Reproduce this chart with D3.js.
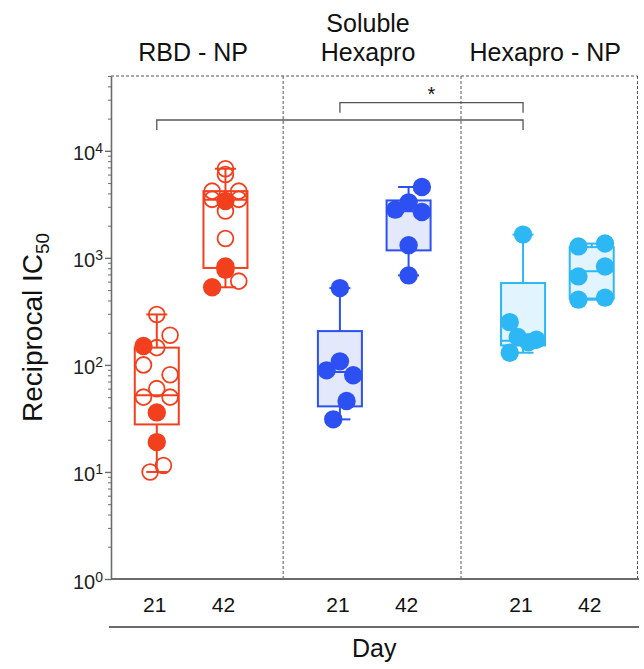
<!DOCTYPE html>
<html>
<head>
<meta charset="utf-8">
<script src="https://cdn.jsdelivr.net/npm/d3@7"></script>
<style>
  body { margin: 0; background: #fff; }
  svg { font-family: "Liberation Sans", Arial, sans-serif; }
</style>
</head>
<body>
<svg id="chart" width="644" height="669"></svg>
<script>
(function () {
  'use strict';

  var groupLines = [['RBD - NP'], ['Soluble', 'Hexapro'], ['Hexapro - NP']];
  var dayLabels = ['21', '42'];
  var colors = ['#f2401e', '#2c50f2', '#2db8f5'];
  var boxFills = ['none', '#e4e8fb', '#e2f4fd'];
  var yTickValues = [1, 10, 100, 1000, 10000];

  // values, top to bottom
  var red21 = [296, 189, 150, 145, 100, 81, 60, 50, 50, 36, 19, 11.5, 10];
  var red21Filled = [0, 0, 1, 0, 0, 0, 0, 0, 0, 1, 1, 0, 0];
  var red21Spread = [0, 1, -1, 0, -1, 1, 0, -1, 1, 0, 0, 0.5, -0.5];
  var red21Box = [10, 27.8, 52, 145, 296];

  var red42 = [6800, 6000, 4200, 4200, 3520, 3520, 3400, 2740, 1515, 830, 775, 606, 531];
  var red42Filled = [0, 0, 0, 0, 0, 0, 1, 0, 0, 1, 1, 0, 1];
  var red42Spread = [0, 0, -1, 1, -1, 1, 0, 0, 0, 0, 0, 1, -1];
  var red42Box = [531, 805, 3500, 4200, 6800];

  var blue21 = [522, 108, 89, 80, 46, 31];
  var blue21Spread = [0, 0, -1, 1, 0.5, -0.5];
  var blue21Box = [31, 41, 86, 207, 522];

  var blue42 = [4590, 3300, 2820, 2680, 1310, 686];
  var blue42Spread = [1, 0, -1, 1, 0, 0];
  var blue42Box = [686, 1175, 2720, 3440, 4590];

  var cyan21 = [1650, 251, 182, 172, 163, 130];
  var cyan21Spread = [0, -1, -0.4, 1, 0.4, -1];
  var cyan21Box = [130, 152, 168, 582, 1650];

  var cyan42 = [1360, 1280, 830, 671, 425, 407];
  var cyan42Spread = [1, -1, 1, -1, 1, -1];
  var cyan42Box = [407, 417, 748, 1260, 1360];

  var allFilled = [1, 1, 1, 1, 1, 1];

  // [from column, to column, label]
  var comparisons = [[0, 4, ''], [2, 4, '*']];

  var columns = [
    {group: 0, day: 0, values: red21, filled: red21Filled, spread: red21Spread, box: red21Box},
    {group: 0, day: 1, values: red42, filled: red42Filled, spread: red42Spread, box: red42Box},
    {group: 1, day: 0, values: blue21, filled: allFilled, spread: blue21Spread, box: blue21Box},
    {group: 1, day: 1, values: blue42, filled: allFilled, spread: blue42Spread, box: blue42Box},
    {group: 2, day: 0, values: cyan21, filled: allFilled, spread: cyan21Spread, box: cyan21Box},
    {group: 2, day: 1, values: cyan42, filled: allFilled, spread: cyan42Spread, box: cyan42Box}
  ];
  columns.forEach(function (c, i) {
    c.pos = i + c.group * 2 / 3;
  });

  var svg = d3.select('#chart'),
      margin = {top: 76, right: 6.5, bottom: 90, left: 111},
      width = +svg.attr('width') - margin.left - margin.right,
      height = +svg.attr('height') - margin.top - margin.bottom,
      g = svg.append('g').attr('transform', 'translate(' + margin.left + ',' + margin.top + ')');

  var axisColor = '#6b6b6b';
  var boxHalf = 22, capHalf = 10.5;

  var xScale = d3.scaleLinear().domain([-2 / 3, 7]).range([0, width]);
  var yScale = d3.scaleLog().domain([1, 5e4]).range([height, 0]);
  var spreadScale = d3.scaleLinear().domain([-1, 1]).range([-13.3, 13.3]);

  // dashed frame + panel dividers
  var dash = '3,2';
  g.append('line')
      .attr('x1', 0).attr('x2', width).attr('y1', 0).attr('y2', 0)
      .attr('stroke', '#555').attr('stroke-width', 1).attr('stroke-dasharray', dash);
  [1.84, 4.43, 7].forEach(function (p) {
    var xp = p === 7 ? width : xScale(p);
    g.append('line')
        .attr('x1', xp).attr('x2', xp).attr('y1', 0).attr('y2', height)
        .attr('stroke', '#555').attr('stroke-width', 1).attr('stroke-dasharray', dash);
  });

  // y axis
  var minorTicks = [];
  for (var e = 0; e < 5; e++) {
    for (var k = 2; k <= 9; k++) {
      var v = k * Math.pow(10, e);
      if (v <= 5e4) minorTicks.push(v);
    }
  }
  var yMinor = g.append('g').attr('class', 'y minor')
      .call(d3.axisLeft(yScale).tickValues(minorTicks).tickSize(3).tickFormat(''));
  yMinor.select('.domain').remove();
  yMinor.selectAll('line').attr('stroke', axisColor).attr('stroke-width', 1);

  var yAxisGroup = g.append('g').attr('class', 'y axis')
      .call(d3.axisLeft(yScale).tickValues(yTickValues).tickSize(6).tickSizeOuter(0).tickFormat(''));
  yAxisGroup.select('.domain').attr('stroke', axisColor).attr('stroke-width', 1.6);
  yAxisGroup.selectAll('.tick line').attr('stroke', axisColor).attr('stroke-width', 1.4);
  yAxisGroup.selectAll('.tick text').remove();
  yAxisGroup.selectAll('.tick').append('text')
      .attr('x', -8)
      .attr('y', 9)
      .attr('text-anchor', 'end')
      .attr('fill', '#222')
      .style('font-size', '20px')
      .each(function (d) {
        var t = d3.select(this);
        t.append('tspan').text('10');
        t.append('tspan').attr('dy', -7).style('font-size', '14px').text(Math.round(Math.log10(d)));
      });

  // bottom axis line
  g.append('line')
      .attr('x1', 0).attr('x2', width + 1.5).attr('y1', height).attr('y2', height)
      .attr('stroke', axisColor).attr('stroke-width', 2);

  // y axis title
  var title = g.append('text')
      .attr('transform', 'translate(' + (-margin.left + 42) + ',' + (height / 2) + ') rotate(-90)')
      .attr('text-anchor', 'middle')
      .attr('fill', '#111')
      .style('font-size', '28px');
  title.append('tspan').text('Reciprocal IC');
  title.append('tspan').attr('dy', 7).style('font-size', '19px').text('50');

  // day labels
  g.selectAll('.day-label')
      .data(columns)
      .enter().append('text')
      .attr('class', 'day-label')
      .attr('x', function (d) { return xScale(d.pos) - 2; })
      .attr('y', height + 33)
      .attr('text-anchor', 'middle')
      .attr('fill', '#111')
      .style('font-size', '21px')
      .text(function (d) { return dayLabels[d.day]; });

  g.append('line')
      .attr('x1', -2).attr('x2', width + 1.5).attr('y1', height + 48).attr('y2', height + 48)
      .attr('stroke', axisColor).attr('stroke-width', 2.2);

  g.append('text')
      .attr('x', width / 2)
      .attr('y', height + 78)
      .attr('text-anchor', 'middle')
      .attr('fill', '#111')
      .style('font-size', '25px')
      .text('Day');

  // group labels
  var panelEdges = [0, xScale(1.84), xScale(4.43), width];
  groupLines.forEach(function (lines, i) {
    var cx = (panelEdges[i] + panelEdges[i + 1]) / 2 - 4;
    lines.forEach(function (line, j) {
      svg.append('text')
          .attr('x', margin.left + cx)
          .attr('y', 61 - (lines.length - 1 - j) * 29)
          .attr('text-anchor', 'middle')
          .attr('fill', '#111')
          .style('font-size', '25px')
          .text(line);
    });
  });

  // boxes
  var col = g.selectAll('.column')
      .data(columns)
      .enter().append('g')
      .attr('class', 'column')
      .attr('transform', function (d) { return 'translate(' + xScale(d.pos) + ',0)'; });

  col.append('rect')
      .attr('x', -boxHalf)
      .attr('width', boxHalf * 2)
      .attr('y', function (d) { return yScale(d.box[3]); })
      .attr('height', function (d) { return yScale(d.box[1]) - yScale(d.box[3]); })
      .attr('fill', function (d) { return boxFills[d.group]; });

  col.each(function (c) {
    var color = colors[c.group];
    var pts = c.values.map(function (v, i) {
      return {value: v, filled: c.filled[i], spread: c.spread[i]};
    });
    d3.select(this).selectAll('circle')
        .data(pts)
        .enter().append('circle')
        .attr('cx', function (d) { return spreadScale(d.spread); })
        .attr('cy', function (d) { return yScale(d.value); })
        .attr('r', function (d) { return d.filled ? 9.2 : 7.9; })
        .attr('fill', function (d) { return d.filled ? color : 'none'; })
        .attr('stroke', function (d) { return d.filled ? 'none' : color; })
        .attr('stroke-width', 1.8);
  });

  col.each(function (c) {
    var sel = d3.select(this);
    var color = colors[c.group];
    var b = c.box;
    sel.append('rect')
        .attr('x', -boxHalf)
        .attr('width', boxHalf * 2)
        .attr('y', yScale(b[3]))
        .attr('height', yScale(b[1]) - yScale(b[3]))
        .attr('fill', 'none')
        .attr('stroke', color)
        .attr('stroke-width', 2);
    var segs = [
      [-boxHalf, boxHalf, b[2], b[2]],
      [0, 0, b[4], b[3]],
      [0, 0, b[1], b[0]],
      [-capHalf, capHalf, b[4], b[4]],
      [-capHalf, capHalf, b[0], b[0]]
    ];
    segs.forEach(function (s) {
      sel.append('line')
          .attr('x1', s[0]).attr('x2', s[1])
          .attr('y1', yScale(s[2])).attr('y2', yScale(s[3]))
          .attr('stroke', color)
          .attr('stroke-width', 2);
    });
  });

  // significance brackets
  comparisons.forEach(function (c, level) {
    var x1 = xScale(columns[c[0]].pos), x2 = xScale(columns[c[1]].pos);
    var yb = 44 - level * 17.3;
    g.append('path')
        .attr('d', 'M' + x1 + ',' + (yb + 10) + 'V' + yb + 'H' + x2 + 'V' + (yb + 10))
        .attr('fill', 'none')
        .attr('stroke', '#555')
        .attr('stroke-width', 1.3);
    if (c[2]) {
      g.append('text')
          .attr('x', (x1 + x2) / 2)
          .attr('y', yb - 2)
          .attr('text-anchor', 'middle')
          .attr('fill', '#111')
          .style('font-size', '20px')
          .text(c[2]);
    }
  });
})();
</script>
</body>
</html>
